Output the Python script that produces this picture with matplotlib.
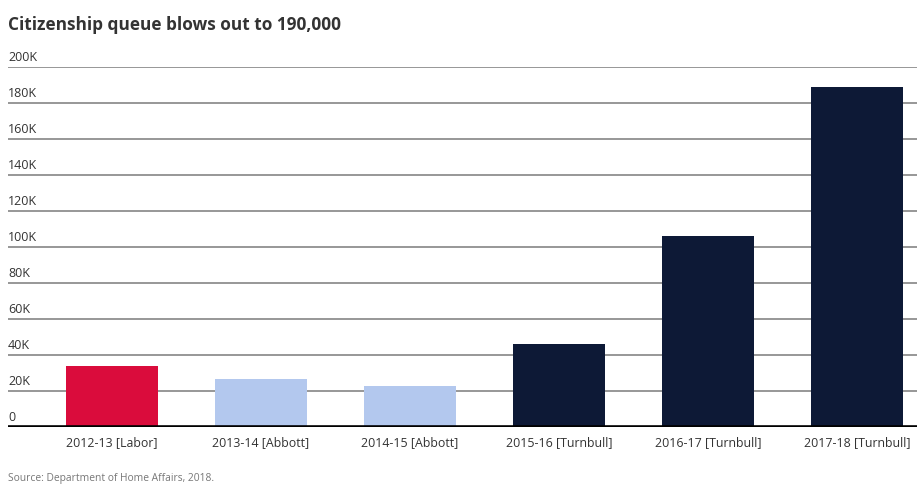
import matplotlib
matplotlib.use("Agg")
import matplotlib.pyplot as plt

# datos
years = ["2012-13 [Labor]", "2013-14 [Abbott]", "2014-15 [Abbott]",
         "2015-16 [Turnbull]", "2016-17 [Turnbull]", "2017-18 [Turnbull]"]
queue = [34100, 26800, 22900, 46300, 106300, 189000]
bar_colors = ["#DA0C3C", "#B3C8EE", "#B3C8EE", "#0D1936", "#0D1936", "#0D1936"]
yticks = [0, 20000, 40000, 60000, 80000, 100000, 120000, 140000, 160000, 180000, 200000]
ylabels = ["0", "20K", "40K", "60K", "80K", "100K", "120K", "140K", "160K", "180K", "200K"]

plt.rcParams['font.family'] = ['Open Sans', 'DejaVu Sans']

fig = plt.figure(figsize=(9.17, 4.91), dpi=100)
ax = fig.add_axes([8 / 917, (491 - 427.3) / 491, 909 / 917, 360 / 491])

x = list(range(len(years)))
ax.bar(x, queue, width=0.617, color=bar_colors, zorder=3)

ax.set_xlim(-0.698, 5.403)
ax.set_ylim(0, 200000)

# lineas de grilla con la etiqueta encima, a la izquierda
for v, lab in zip(yticks, ylabels):
    if v > 0:
        ax.axhline(v, color="#858585", lw=1.2, zorder=1)
    ax.text(0, v + 1800, lab, transform=ax.get_yaxis_transform(),
            ha="left", va="bottom", fontsize=9, color="#333333", clip_on=False)
ax.axhline(0, color="black", lw=2.6, zorder=4)

ax.set_yticks([])
ax.set_xticks(x)
ax.set_xticklabels(years, fontsize=8.9, color="#333333")
ax.tick_params(axis="x", length=0, pad=6)
for s in ax.spines.values():
    s.set_visible(False)

fig.text(8 / 917, 1 - 25 / 491, "Citizenship queue blows out to 190,000",
         ha="left", va="center", fontsize=12.4, fontweight="bold", color="#333333")
fig.text(8 / 917, 1 - 478 / 491, "Source: Department of Home Affairs, 2018.",
         ha="left", va="center", fontsize=7.4, color="#777777")

fig.savefig("out.png", dpi=100)
